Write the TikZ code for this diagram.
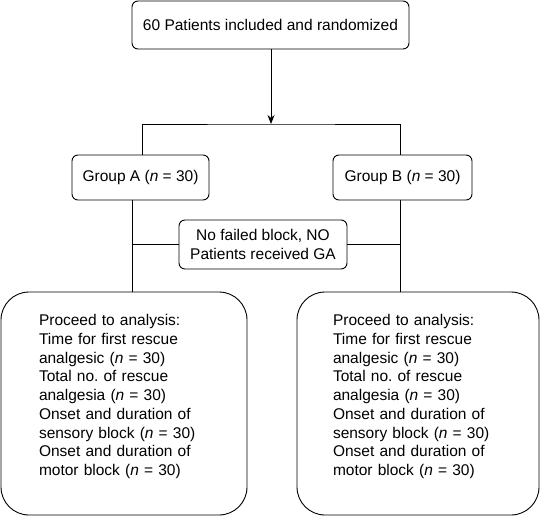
\documentclass[tikz,border=0pt]{standalone}
\usepackage{fontspec}
\setmainfont{Liberation Sans}
\usetikzlibrary{arrows.meta}
\frenchspacing
\begin{document}
\begin{tikzpicture}[x=1pt,y=-1pt,
  every node/.style={font=\fontsize{15.5}{18.7}\selectfont},
  smallbox/.style={draw,line width=0.9pt,rounded corners=6pt,inner sep=0pt,align=center},
  bigbox/.style={draw,line width=0.9pt,rounded corners=28pt,inner sep=0pt,text width=170pt,align=left,minimum width=244pt,minimum height=223pt},
  link/.style={line width=0.9pt}]
\useasboundingbox (0,0) rectangle (540,516);
\node[smallbox,minimum width=277pt,minimum height=48pt] (top) at (270.5,25) {60 Patients included and randomized};
\node[smallbox,minimum width=137pt,minimum height=45pt] (ga) at (140.5,177.5) {Group A (\textit{n} = 30)};
\node[smallbox,minimum width=139pt,minimum height=45pt] (gb) at (402.5,177.5) {Group B (\textit{n} = 30)};
\node[smallbox,minimum width=168pt,minimum height=49pt] (mid) at (263,244.5) {No failed block, NO\\Patients received GA};
\node[bigbox,minimum width=246pt] (la) at (124,403.5) {Proceed to analysis:\\Time for first rescue\\analgesic (\textit{n} = 30)\\Total no. of rescue\\analgesia (\textit{n} = 30)\\Onset and duration of\\sensory block (\textit{n} = 30)\\Onset and duration of\\motor block (\textit{n} = 30)\rule[-17pt]{0pt}{0pt}};
\node[bigbox,minimum width=242pt] (ra) at (418,403.5) {Proceed to analysis:\\Time for first rescue\\analgesic (\textit{n} = 30)\\Total no. of rescue\\analgesia (\textit{n} = 30)\\Onset and duration of\\sensory block (\textit{n} = 30)\\Onset and duration of\\motor block (\textit{n} = 30)\rule[-17pt]{0pt}{0pt}};
\coordinate (split) at (271,124);
\coordinate (pa) at (132,0);
\coordinate (pb) at (400,0);
\draw[link,-{Stealth[length=9pt,width=7pt]}] (top.south -| split) -- (split);
\draw[link] ([xshift=1.5pt]ga.north) |- (split) -| ([xshift=-2.5pt]gb.north);
\draw[link] (ga.south -| pa) -- (la.north -| pa);
\draw[link] (gb.south -| pb) -- (ra.north -| pb);
\draw[link] (mid.west) -- (mid.west -| pa);
\draw[link] (mid.east) -- (mid.east -| pb);
\end{tikzpicture}
\end{document}
